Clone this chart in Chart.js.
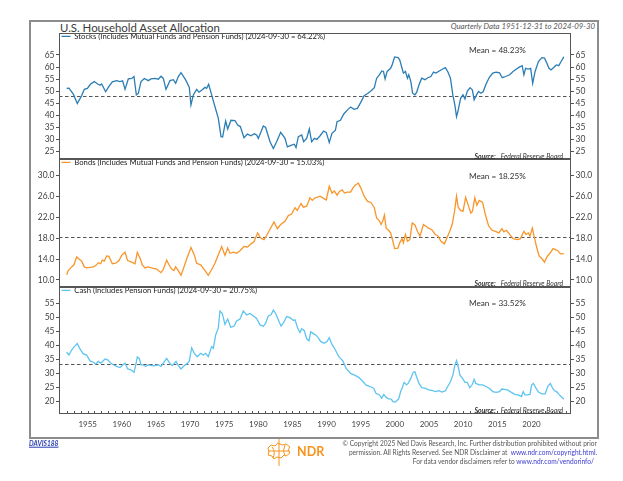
<!DOCTYPE html>
<html>
<head>
<meta charset="utf-8">
<script src="https://cdn.jsdelivr.net/npm/chart.js@4.4.1/dist/chart.umd.min.js"></script>
<style>
  body { margin: 0; background: #fff; font-family: Lato, 'Open Sans', sans-serif; }
  #page { position: relative; width: 623px; height: 481px; overflow: hidden; }
  .frame { position: absolute; left: 29px; top: 20px; width: 566px; height: 415px; border: 2px solid #8c8c8c; }
  .panel { position: absolute; left: 29px; width: 570px; }
  .txt { position: absolute; white-space: nowrap; line-height: 1; transform: translateY(-50%); color: #333; }
  .title { left: 60px; top: 28px; font-size: 11.4px; color: #3a3a3a; }
  .sub { right: 28px; top: 26.5px; font-size: 7.8px; font-style: italic; color: #555; }
  .mean { left: 469px; font-size: 8.2px; }
  .src { right: 60px; font-size: 6.8px; font-style: italic; color: #333; }
  .src b { margin-right: 5px; }
  .davis { left: 29px; top: 443px; font-size: 6.6px; font-weight: bold; font-style: italic; color: #2a3fb0; text-decoration: underline; }
  .copy { right: 26px; font-size: 6.6px; color: #555; }
  .copy a { color: #3a3ad0; text-decoration: none; }
  .ndr { left: 297px; top: 452px; font-size: 12.5px; font-weight: bold; color: #f7941d; }
  .logo { position: absolute; left: 264px; top: 439px; }
</style>
</head>
<body>
<div id="page">
  <div class="frame"></div>
  <div class="txt title">U.S. Household Asset Allocation</div>
  <div class="txt sub">Quarterly Data 1951-12-31 to 2024-09-30</div>

  <div class="panel" style="top:30px;height:133px"><canvas id="chart-stocks" width="570" height="133"></canvas></div>
  <div class="panel" style="top:156px;height:135px"><canvas id="chart-bonds" width="570" height="135"></canvas></div>
  <div class="panel" style="top:284px;height:146px"><canvas id="chart-cash" width="570" height="146"></canvas></div>

  <div class="txt mean" style="top:50px">Mean = 48.23%</div>
  <div class="txt mean" style="top:176px">Mean = 18.25%</div>
  <div class="txt mean" style="top:303px">Mean = 33.52%</div>

  <div class="txt src" style="top:155.5px"><b>Source:</b>Federal Reserve Board</div>
  <div class="txt src" style="top:283px"><b>Source:</b>Federal Reserve Board</div>
  <div class="txt src" style="top:409.5px"><b>Source:</b>Federal Reserve Board</div>

  <div class="txt davis">DAVIS188</div>
  <svg class="logo" width="30" height="27" viewBox="0 0 30 27" fill="none" stroke="#f7941d" stroke-width="1">
    <path d="M4 9 L7 6 L11 7 L14 4 L18 6 L22 5 L26 8 L24 11 L26 14 L22 17 L20 16 L17 19 L13 18 L10 20 L8 17 L4 16 L5 13 Z"/>
    <path d="M15 0 L15 27 M8 8 Q12 13 9 19 M21 6 Q18 12 21 17 M4 12 L26 12"/>
  </svg>
  <div class="txt ndr">NDR</div>
  <div class="txt copy" style="top:443px">© Copyright 2025 Ned Davis Research, Inc. Further distribution prohibited without prior</div>
  <div class="txt copy" style="top:452px">permission. All Rights Reserved. See NDR Disclaimer at&nbsp; <a>www.ndr.com/copyright.html.</a></div>
  <div class="txt copy" style="top:461px;right:29px">For data vendor disclaimers refer to <a>www.ndr.com/vendorinfo/</a></div>
</div>

<script>
const stockYears = [
  1951.92,1952.26,1952.9,1953.48,1954.12,1954.51,1954.95,1955.44,1955.97,1956.46,
  1956.8,1957.05,1957.63,1958.02,1958.61,1959.24,1959.73,1960.12,1960.47,1960.95,
  1961.44,1961.78,1962.13,1962.42,1962.81,1963.3,1963.88,1964.27,1964.86,1965.35,
  1965.74,1966.08,1966.47,1967.06,1967.55,1967.89,1968.28,1968.67,1969.35,1969.89,
  1970.13,1970.48,1970.96,1971.31,1971.7,1972.18,1972.43,1972.72,1973.16,1973.65,
  1974.14,1974.53,1974.77,1975.21,1975.51,1975.99,1976.58,1976.97,1977.36,1977.9,
  1978.39,1978.92,1979.41,1979.75,1980.0,1980.73,1981.07,1981.71,1982.2,1982.68,
  1983.27,1983.91,1984.25,1984.88,1985.27,1985.52,1985.86,1986.35,1986.64,1987.08,
  1987.47,1987.81,1988.2,1988.56,1989.05,1989.55,1989.95,1990.39,1990.79,1991.29,
  1991.53,1992.03,1992.52,1993.02,1993.52,1994.01,1994.51,1995.0,1995.5,1996.0,
  1996.49,1996.99,1997.33,1997.73,1998.08,1998.33,1998.57,1998.87,1999.37,1999.56,
  1999.96,2000.46,2000.71,2001.05,2001.25,2001.55,2001.85,2002.04,2002.34,2002.59,
  2002.94,2003.18,2003.53,2003.93,2004.42,2004.82,2005.27,2005.66,2006.01,2006.51,
  2007.0,2007.4,2007.79,2008.14,2008.49,2008.79,2009.03,2009.28,2009.63,2009.98,
  2010.27,2010.62,2011.02,2011.36,2011.61,2011.96,2012.26,2012.6,2012.95,2013.35,
  2013.84,2014.34,2014.83,2015.33,2015.73,2016.22,2016.82,2017.31,2017.81,2018.3,
  2018.65,2018.9,2019.15,2019.54,2019.89,2020.19,2020.54,2021.03,2021.53,2021.92,
  2022.27,2022.57,2022.87,2023.26,2023.66,2024.01,2024.35,2024.75
];
const stockValues = [
  51.2,51.3,48.8,44.9,48.2,50.8,51.2,53.0,54.0,53.0,
  52.5,53.0,49.8,51.6,53.9,54.4,54.0,54.3,50.8,55.1,
  55.3,56.1,48.5,49.1,54.0,55.3,54.4,55.1,55.3,55.0,
  56.2,55.3,50.8,54.4,54.8,53.3,56.1,57.7,54.7,51.6,
  44.3,48.5,50.8,49.6,50.4,51.6,51.2,52.9,48.5,43.6,
  38.8,31.2,31.1,37.7,34.4,38.0,37.9,36.0,35.4,30.8,
  32.3,31.6,32.4,31.9,30.5,35.6,35.0,29.1,26.3,29.1,
  33.0,30.5,27.0,27.7,28.1,26.7,31.2,31.9,29.1,30.5,
  34.4,29.1,30.5,30.1,31.6,33.5,33.0,28.8,32.6,33.9,
  37.4,38.0,40.6,42.2,43.5,42.5,42.9,45.4,48.2,49.1,
  50.1,51.5,55.4,56.8,58.4,58.2,55.1,58.2,59.5,60.6,
  64.2,63.9,63.0,59.5,57.5,58.2,55.4,56.8,54.0,49.2,
  48.5,49.5,52.6,55.4,54.8,55.6,56.1,57.9,57.5,58.4,
  59.2,59.8,57.9,55.4,48.5,44.3,39.5,42.2,47.1,48.5,
  46.8,50.1,51.5,50.5,46.4,48.5,49.9,49.2,49.9,52.9,
  55.8,57.5,57.9,57.6,55.6,56.1,56.8,58.2,59.2,60.1,
  60.6,56.8,59.5,59.2,59.5,53.3,58.2,62.3,63.9,63.7,
  61.6,59.5,58.8,59.8,60.9,60.6,62.3,64.22
];

const bondYears = [
  1951.92,1952.16,1952.65,1952.99,1953.38,1953.73,1954.12,1954.51,1954.85,1955.34,
  1955.83,1956.22,1956.56,1956.9,1957.14,1957.44,1957.78,1958.12,1958.61,1959.1,
  1959.59,1959.98,1960.47,1960.86,1961.44,1961.93,1962.27,1962.66,1963.0,1963.4,
  1963.79,1964.37,1965.1,1965.74,1966.08,1966.57,1966.91,1967.3,1967.64,1967.89,
  1968.28,1968.67,1969.01,1969.5,1970.13,1970.62,1970.96,1971.55,1972.09,1972.67,
  1973.16,1973.65,1974.14,1974.63,1975.11,1975.51,1975.85,1976.34,1976.82,1977.31,
  1977.9,1978.44,1978.92,1979.36,1979.9,1980.34,1980.83,1981.22,1981.71,1982.29,
  1982.78,1983.27,1983.91,1984.39,1984.88,1985.37,1985.71,1986.25,1986.59,1987.08,
  1987.57,1987.91,1988.2,1988.56,1989.05,1989.55,1989.95,1990.39,1990.79,1991.14,
  1991.53,1991.88,1992.28,1992.62,1993.02,1993.52,1993.86,1994.26,1994.66,1995.0,
  1995.5,1996.0,1996.49,1996.99,1997.33,1997.73,1997.98,1998.23,1998.47,1998.72,
  1999.07,1999.37,1999.71,1999.96,2000.46,2000.71,2001.05,2001.25,2001.55,2001.85,
  2002.19,2002.54,2002.94,2003.33,2003.68,2004.18,2004.52,2004.92,2005.42,2005.91,
  2006.31,2006.75,2007.25,2007.65,2008.04,2008.39,2008.74,2009.03,2009.28,2009.63,
  2009.98,2010.37,2010.72,2011.12,2011.36,2011.71,2012.01,2012.36,2012.85,2013.25,
  2013.74,2014.24,2014.74,2015.23,2015.68,2015.97,2016.32,2016.82,2017.31,2017.96,
  2018.4,2018.9,2019.2,2019.54,2019.79,2020.14,2020.44,2020.78,2021.13,2021.53,
  2021.92,2022.27,2022.77,2023.16,2023.51,2023.86,2024.25,2024.75
];
const bondValues = [
  11.0,11.8,12.5,12.9,14.4,14.0,13.6,12.5,12.3,12.4,
  12.5,12.8,13.3,13.1,13.8,13.6,14.6,14.5,13.1,13.2,
  13.7,14.7,15.3,13.7,13.4,13.1,15.3,14.2,12.9,12.3,
  12.5,12.3,12.1,11.4,12.0,13.8,12.9,12.1,11.8,12.5,
  11.8,10.9,12.1,14.0,16.2,14.8,13.2,12.9,12.0,10.9,
  12.0,13.2,14.8,16.4,14.7,16.1,15.1,15.3,15.1,15.6,
  16.4,16.3,16.9,17.3,19.0,18.0,17.7,18.5,19.7,21.1,
  19.8,20.6,21.2,22.3,22.6,23.8,23.3,24.6,23.9,24.1,
  25.7,25.2,25.6,25.8,26.0,25.6,25.3,27.9,26.6,27.0,
  26.2,26.9,27.2,26.6,26.8,26.8,27.6,28.2,28.5,27.6,
  26.0,25.0,24.8,23.8,21.8,21.3,20.6,21.3,22.4,19.9,
  19.5,19.0,17.4,16.0,16.1,17.1,17.9,17.1,18.7,17.4,
  17.7,20.9,20.5,19.2,18.4,20.6,20.3,19.9,19.6,18.7,
  18.4,17.4,16.9,18.1,19.3,20.6,23.1,26.0,23.9,23.3,
  23.1,25.8,24.4,22.8,23.1,25.7,24.3,25.2,24.8,22.5,
  20.3,19.5,19.3,19.0,19.8,19.2,19.5,18.7,17.9,17.7,
  17.9,19.3,18.7,19.0,18.4,19.9,18.1,16.2,14.6,14.1,
  13.4,14.4,15.2,16.0,15.8,15.6,15.0,15.03
];

const cashYears = [
  1951.92,1952.26,1952.65,1953.04,1953.48,1953.87,1954.36,1954.85,1955.34,1955.83,
  1956.17,1956.56,1956.9,1957.19,1957.54,1957.93,1958.37,1958.76,1959.24,1959.73,
  1960.07,1960.47,1960.86,1961.34,1961.78,1962.03,1962.27,1962.56,1962.81,1963.15,
  1963.49,1963.88,1964.37,1964.86,1965.35,1965.74,1966.08,1966.57,1967.06,1967.4,
  1967.94,1968.28,1968.67,1969.16,1969.65,1969.89,1970.23,1970.62,1971.06,1971.55,
  1971.94,1972.28,1972.67,1973.16,1973.41,1973.75,1974.14,1974.38,1974.72,1975.11,
  1975.51,1975.95,1976.43,1976.82,1977.31,1977.8,1978.29,1978.78,1979.27,1979.75,
  1980.24,1980.73,1981.07,1981.46,1981.85,1982.2,1982.54,1982.93,1983.32,1983.66,
  1984.15,1984.64,1985.13,1985.37,1985.76,1986.1,1986.35,1986.74,1987.08,1987.42,
  1987.67,1988.2,1988.66,1989.15,1989.65,1990.05,1990.39,1990.79,1991.29,1991.78,
  1992.38,1992.87,1993.52,1994.11,1994.76,1995.35,1995.75,1996.34,1996.89,1997.23,
  1997.73,1998.08,1998.38,1998.72,1999.12,1999.47,1999.71,2000.06,2000.56,2000.85,
  2001.05,2001.35,2001.7,2001.94,2002.34,2002.69,2002.94,2003.18,2003.53,2003.93,
  2004.42,2004.92,2005.51,2006.01,2006.41,2006.9,2007.4,2007.74,2008.14,2008.49,
  2008.79,2009.03,2009.28,2009.53,2009.88,2010.27,2010.62,2010.97,2011.36,2011.61,
  2011.86,2012.36,2012.85,2013.35,2013.84,2014.34,2014.83,2015.33,2015.68,2016.07,
  2016.57,2017.07,2017.56,2018.06,2018.55,2018.8,2019.05,2019.4,2019.79,2020.04,
  2020.29,2020.63,2021.03,2021.53,2022.02,2022.42,2022.77,2023.11,2023.41,2023.76,
  2024.1,2024.35,2024.75
];
const cashValues = [
  37.6,36.6,38.4,39.6,40.7,38.8,37.0,36.6,34.5,34.0,
  33.3,34.3,33.7,34.3,35.2,34.9,33.7,33.1,32.5,32.1,
  32.8,33.7,31.6,31.3,30.4,32.8,35.9,35.4,33.1,33.1,
  32.5,33.1,32.8,32.8,33.1,32.5,33.7,35.4,33.5,32.8,
  34.3,32.8,31.6,32.8,33.7,34.5,39.2,37.2,36.0,37.2,
  36.6,37.2,36.0,39.6,39.0,43.8,46.3,52.4,51.5,47.6,
  49.5,46.6,46.9,48.8,49.5,52.4,51.0,51.5,50.6,49.7,
  47.4,46.9,48.0,50.6,51.0,52.7,51.5,49.2,47.0,48.0,
  50.4,50.0,49.0,49.2,46.3,44.7,46.0,45.3,42.4,41.7,
  44.9,44.1,43.2,41.4,40.8,41.4,42.8,40.4,38.4,36.0,
  34.5,31.8,30.0,29.4,28.5,27.0,25.9,25.3,24.7,22.9,
  22.3,21.1,22.5,21.4,20.9,20.8,19.9,19.7,20.9,23.5,
  24.7,26.8,25.9,26.4,28.3,30.4,30.6,28.8,26.4,24.9,
  24.7,24.1,23.8,23.5,23.8,23.3,23.8,25.3,27.0,29.4,
  33.0,34.6,32.4,29.4,28.3,26.8,26.8,24.9,26.1,27.9,
  26.4,25.9,25.9,25.3,24.7,23.5,23.2,23.5,24.4,24.3,
  24.0,23.2,22.5,22.3,21.7,23.5,22.3,22.3,22.5,25.9,
  26.4,24.9,23.3,22.7,22.7,25.5,26.4,24.7,23.8,23.3,
  22.3,21.7,20.75
];

const stockTicks = [25, 30, 35, 40, 45, 50, 55, 60, 65];
const bondTicks = [10, 12, 14, 16, 18, 20, 22, 24, 26, 28, 30];
const cashTicks = [20, 25, 30, 35, 40, 45, 50, 55];
const xTickYears = [1955, 1960, 1965, 1970, 1975, 1980, 1985, 1990, 1995, 2000, 2005, 2010, 2015, 2020];

const stockMean = 48.23, bondMean = 18.25, cashMean = 33.52;

Chart.defaults.font.family = 'Lato';
Chart.defaults.color = '#444';

// dashed mean line across the plot
const meanLinePlugin = {
  id: 'meanLine',
  beforeDatasetsDraw(chart, args, opts) {
    const { ctx, chartArea: a } = chart;
    const py = Math.round(chart.scales.y.getPixelForValue(opts.value)) + 0.5;
    ctx.save();
    ctx.strokeStyle = '#555';
    ctx.lineWidth = 1.2;
    ctx.setLineDash([3.5, 2.5]);
    ctx.beginPath();
    ctx.moveTo(a.left, py);
    ctx.lineTo(a.right, py);
    ctx.stroke();
    ctx.restore();
  }
};

// box round each panel plus the small yearly ticks on the bottom panel
const panelBoxPlugin = {
  id: 'panelBox',
  afterDraw(chart, args, opts) {
    const { ctx, chartArea: a } = chart;
    ctx.save();
    ctx.strokeStyle = '#555';
    ctx.lineWidth = 1;
    ctx.strokeRect(Math.round(a.left) + 0.5, Math.round(a.top) + 0.5,
      Math.round(a.width) - 1, Math.round(a.height) - 1);
    if (opts.yearTicks) {
      const x = chart.scales.x;
      ctx.beginPath();
      for (let yr = 1952; yr <= 2025; yr++) {
        const px = Math.round(x.getPixelForValue(yr)) + 0.5;
        ctx.moveTo(px, a.bottom);
        ctx.lineTo(px, a.bottom - 3);
      }
      ctx.stroke();
    }
    ctx.restore();
  }
};

function yAxis(position, min, max, ticks, decimals, width) {
  return {
    position: position,
    min: min,
    max: max,
    afterBuildTicks: (s) => { s.ticks = ticks.map(v => ({ value: v })); },
    afterFit: (s) => { s.width = width; s.paddingTop = 0; s.paddingBottom = 0; },
    border: { display: false },
    grid: { drawOnChartArea: false, drawTicks: true, tickLength: 3, color: '#555' },
    ticks: { font: { size: 8.5 }, color: '#444', padding: 1.5, callback: (v) => v.toFixed(decimals) }
  };
}

function makePanel(id, cfg) {
  const showX = !!cfg.showX;
  const xScale = {
    type: 'linear',
    min: 1950.8,
    max: 2025.8,
    display: showX
  };
  if (showX) {
    Object.assign(xScale, {
      afterBuildTicks: (s) => { s.ticks = xTickYears.map(v => ({ value: v })); },
      afterFit: (s) => { s.height = 16; s.paddingLeft = 0; s.paddingRight = 0; },
      border: { display: false },
      grid: { display: false, drawTicks: false },
      ticks: { font: { size: 8 }, color: '#444', padding: 5.5, autoSkip: false, maxRotation: 0, callback: (v) => String(v) }
    });
  }
  return new Chart(document.getElementById(id), {
    type: 'line',
    data: {
      datasets: [{
        label: cfg.label,
        data: cfg.years.map((yr, i) => ({ x: yr, y: cfg.values[i] })),
        borderColor: cfg.color,
        backgroundColor: cfg.color,
        borderWidth: 1.3,
        pointRadius: 0,
        tension: 0
      }]
    },
    options: {
      responsive: false,
      animation: false,
      devicePixelRatio: 1,
      layout: { padding: { top: 3, bottom: showX ? 0 : 4, left: 0, right: 0 } },
      plugins: {
        legend: {
          position: 'chartArea',
          align: 'start',
          labels: { boxWidth: 9, boxHeight: 0, padding: 2.5, color: '#222', font: { size: 7.7 } }
        },
        tooltip: { enabled: false },
        meanLine: { value: cfg.mean },
        panelBox: { yearTicks: showX }
      },
      scales: {
        x: xScale,
        y: yAxis('left', cfg.min, cfg.max, cfg.ticks, cfg.decimals, 30),
        y2: yAxis('right', cfg.min, cfg.max, cfg.ticks, cfg.decimals, 28)
      }
    },
    plugins: [meanLinePlugin, panelBoxPlugin]
  });
}

makePanel('chart-stocks', {
  label: 'Stocks (Includes Mutual Funds and Pension Funds) (2024-09-30 = 64.22%)',
  years: stockYears, values: stockValues, color: '#2b7db5',
  min: 21.98, max: 74.1, ticks: stockTicks, decimals: 0, mean: stockMean
});
makePanel('chart-bonds', {
  label: 'Bonds (Includes Mutual Funds and Pension Funds) (2024-09-30 = 15.03%)',
  years: bondYears, values: bondValues, color: '#f8962a',
  min: 8.66, max: 33.11, ticks: bondTicks, decimals: 1, mean: bondMean
});
makePanel('chart-cash', {
  label: 'Cash (Includes Pension Funds) (2024-09-30 = 20.75%)',
  years: cashYears, values: cashValues, color: '#5ec4f0',
  min: 15.45, max: 60.99, ticks: cashTicks, decimals: 0, mean: cashMean, showX: true
});
</script>
</body>
</html>
